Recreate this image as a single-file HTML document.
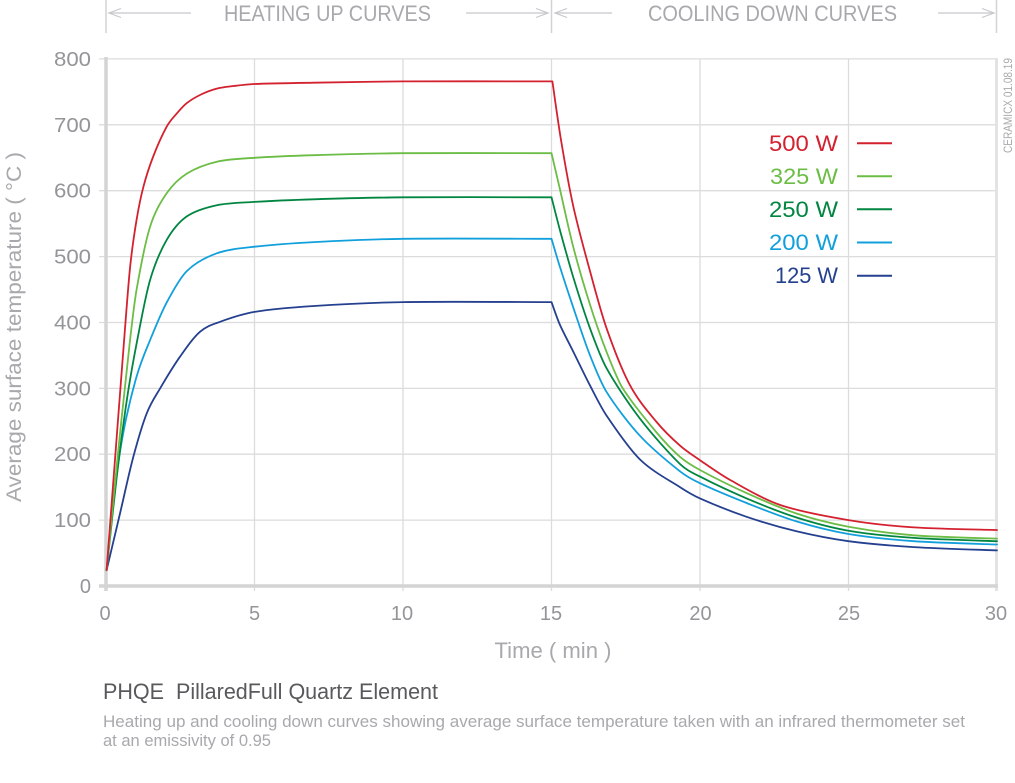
<!DOCTYPE html>
<html>
<head>
<meta charset="utf-8">
<style>
  html,body{margin:0;padding:0;background:#ffffff;}
  svg{display:block;}
  text{font-family:"Liberation Sans",sans-serif;}
</style>
</head>
<body>
<svg width="1015" height="783" viewBox="0 0 1015 783" xmlns="http://www.w3.org/2000/svg">
  <rect x="0" y="0" width="1015" height="783" fill="#ffffff"/>

  <!-- Header separators -->
  <g stroke="#d1d3d4" stroke-width="1.5">
    <line x1="106" y1="0" x2="106" y2="33"/>
    <line x1="551.5" y1="0" x2="551.5" y2="33"/>
    <line x1="996.5" y1="0" x2="996.5" y2="33"/>
  </g>
  <!-- Header arrows -->
  <g stroke="#c7c8ca" stroke-width="1.2" fill="none">
    <line x1="109" y1="13" x2="191" y2="13"/>
    <polyline points="121,8.5 109,13 121,17.5"/>
    <line x1="466" y1="13" x2="548" y2="13"/>
    <polyline points="536,8.5 548,13 536,17.5"/>
    <line x1="555" y1="13" x2="612" y2="13"/>
    <polyline points="567,8.5 555,13 567,17.5"/>
    <line x1="938" y1="13" x2="994" y2="13"/>
    <polyline points="982,8.5 994,13 982,17.5"/>
  </g>
  <text x="327.5" y="21" font-size="22" fill="#a7a9ac" text-anchor="middle" textLength="207" lengthAdjust="spacingAndGlyphs">HEATING UP CURVES</text>
  <text x="772.5" y="21" font-size="22" fill="#a7a9ac" text-anchor="middle" textLength="249" lengthAdjust="spacingAndGlyphs">COOLING DOWN CURVES</text>

  <!-- Grid -->
  <g stroke="#dcdcdc" stroke-width="1.3">
    <line x1="99" y1="58.9" x2="997" y2="58.9"/>
    <line x1="99" y1="124.8" x2="997" y2="124.8"/>
    <line x1="99" y1="190.7" x2="997" y2="190.7"/>
    <line x1="99" y1="256.6" x2="997" y2="256.6"/>
    <line x1="99" y1="322.5" x2="997" y2="322.5"/>
    <line x1="99" y1="388.4" x2="997" y2="388.4"/>
    <line x1="99" y1="454.2" x2="997" y2="454.2"/>
    <line x1="99" y1="520.1" x2="997" y2="520.1"/>
    <line x1="254.5" y1="58.9" x2="254.5" y2="591"/>
    <line x1="403" y1="58.9" x2="403" y2="591"/>
    <line x1="551.5" y1="58.9" x2="551.5" y2="591"/>
    <line x1="700" y1="58.9" x2="700" y2="591"/>
    <line x1="848.5" y1="58.9" x2="848.5" y2="591"/>
  </g>
  <line x1="996.5" y1="58" x2="996.5" y2="591" stroke="#e3e3e3" stroke-width="3"/>
  <!-- Axes -->
  <line x1="106" y1="57" x2="106" y2="591" stroke="#d4d4d4" stroke-width="3.5"/>
  <line x1="99" y1="586" x2="998" y2="586" stroke="#d4d4d4" stroke-width="3.5"/>

  <!-- Y tick labels -->
  <g font-size="20" fill="#939598" text-anchor="end">
    <text x="91" y="66" textLength="37" lengthAdjust="spacingAndGlyphs">800</text>
    <text x="91" y="131.8" textLength="37" lengthAdjust="spacingAndGlyphs">700</text>
    <text x="91" y="197.7" textLength="37" lengthAdjust="spacingAndGlyphs">600</text>
    <text x="91" y="263.6" textLength="37" lengthAdjust="spacingAndGlyphs">500</text>
    <text x="91" y="329.5" textLength="37" lengthAdjust="spacingAndGlyphs">400</text>
    <text x="91" y="395.4" textLength="37" lengthAdjust="spacingAndGlyphs">300</text>
    <text x="91" y="461.2" textLength="37" lengthAdjust="spacingAndGlyphs">200</text>
    <text x="91" y="527.1" textLength="37" lengthAdjust="spacingAndGlyphs">100</text>
    <text x="91" y="593">0</text>
  </g>
  <!-- X tick labels -->
  <g font-size="20" fill="#939598" text-anchor="middle">
    <text x="105" y="620">0</text>
    <text x="254.5" y="620">5</text>
    <text x="402" y="620">10</text>
    <text x="551" y="620">15</text>
    <text x="700.5" y="620">20</text>
    <text x="849" y="620">25</text>
    <text x="996" y="620">30</text>
  </g>

  <!-- Axis titles -->
  <text x="553" y="658" font-size="22" fill="#a7a9ac" text-anchor="middle" textLength="117" lengthAdjust="spacingAndGlyphs">Time ( min )</text>
  <text transform="translate(21,327) rotate(-90)" x="0" y="0" font-size="21" fill="#a7a9ac" text-anchor="middle" textLength="350" lengthAdjust="spacingAndGlyphs">Average surface temperature ( °C )</text>
  <text transform="translate(1012,105.5) rotate(-90)" x="0" y="0" font-size="12" fill="#a7a9ac" text-anchor="middle" textLength="95" lengthAdjust="spacingAndGlyphs">CERAMICX 01.08.19</text>

  <!-- Series -->
  <g fill="none" stroke-width="1.8" stroke-linejoin="round" stroke-linecap="round">
    <!-- 125 W -->
    <path stroke="#25408f" d="M 106.6,570.2
      C 108.83,560.75 115.55,532.38 120,513.5
      C 124.45,494.62 128.85,473.58 133.3,456.9
      C 137.75,440.22 142.23,424.82 146.7,413.4
      C 151.17,401.98 155.63,396.01 160.1,388.4
      C 165.65,378.95 173.33,366.15 180,356.7
      C 186.67,347.25 193.43,337.52 200.1,331.7
      C 206.77,325.88 213.37,324.21 220,321.8
      C 229.07,318.5 243,313.83 254.5,311.9
      C 270.15,309.27 294.1,307.3 313.9,306
      C 338.65,304.37 373.3,302.59 403,302.1
      C 442.6,301.45 526.75,302.1 551.5,302.1
      C 552.88,305.83 557.03,318.2 559.8,324.5
      C 563.42,332.73 568.73,342.47 573.2,351.5
      C 578.2,361.6 584.27,374.45 589.8,385.1
      C 595.33,395.75 600.87,407.2 606.4,415.4
      C 614.77,427.8 628.8,448.58 640,459.5
      C 652.28,471.47 670.1,480.72 680.1,487.2
      C 686.73,491.5 693.37,495.45 700,498.4
      C 711.08,503.33 731.07,511.51 746.6,516.8
      C 762.68,522.28 779.87,527.32 796.5,531.3
      C 813.48,535.37 831.17,538.87 848.5,541.2
      C 868.05,543.83 892.03,545.75 913.8,547.1
      C 938.55,548.63 983.13,549.85 997,550.4"/>
    <!-- 200 W -->
    <path stroke="#12a0dc" d="M 106.6,570.2
      C 107.73,558.45 111.13,518.4 113.4,499.7
      C 116.17,476.87 119.93,450.55 123.2,433.2
      C 127.07,412.67 132.13,391.98 136.6,376.5
      C 141.07,361.02 145.53,351.3 150,340.3
      C 155,328 161.07,313.1 166.6,302.7
      C 172.73,291.17 180.07,277.72 186.8,271.1
      C 195.17,262.87 206.8,256.91 216.8,253.3
      C 228.08,249.23 241.93,248.15 254.5,246.7
      C 270.68,244.83 294.1,243.16 313.9,242.1
      C 338.65,240.78 373.3,239.21 403,238.8
      C 442.6,238.25 526.75,238.8 551.5,238.8
      C 552.88,243.42 557.03,257.76 559.8,266.5
      C 563.42,277.92 568.73,294.14 573.2,307.3
      C 578.2,322.02 584.27,340.73 589.8,354.8
      C 595.33,368.87 600.87,382.78 606.4,391.7
      C 614.77,405.2 628.8,423.69 640,435.8
      C 652.28,449.08 670.1,463.5 680.1,471.4
      C 686.73,476.64 693.37,480.05 700,483.2
      C 711.08,488.47 731.07,496.85 746.6,503
      C 762.68,509.37 779.87,516.34 796.5,521.4
      C 813.48,526.57 831.17,531.08 848.5,534
      C 868.05,537.3 892.03,539.66 913.8,541.2
      C 938.55,542.95 983.13,543.95 997,544.5"/>
    <!-- 250 W -->
    <path stroke="#008641" d="M 106.6,570.2
      C 108.28,554.72 113.33,505.63 116.7,477.3
      C 120.07,448.97 123.48,422.48 126.8,400.2
      C 130.07,378.25 133.33,360.48 136.6,343.6
      C 140.47,323.62 145.53,295.72 150,280.3
      C 155,263.05 161.07,249.71 166.6,240.1
      C 172.73,229.45 180.07,221.08 186.8,216.4
      C 195.17,210.58 206.8,207.35 216.8,205.2
      C 228.08,202.78 241.93,202.66 254.5,201.9
      C 270.68,200.92 294.1,199.92 313.9,199.3
      C 338.65,198.53 373.3,197.55 403,197.3
      C 442.6,196.97 526.75,197.3 551.5,197.3
      C 552.88,202.68 557.03,219.44 559.8,229.6
      C 563.42,242.88 568.73,262.37 573.2,277
      C 578.2,293.37 584.27,312.65 589.8,327.8
      C 595.33,342.95 600.87,357.89 606.4,367.9
      C 614.77,383.05 628.8,404.08 640,418.7
      C 652.28,434.73 670.1,454.45 680.1,464.1
      C 686.73,470.5 693.37,473.18 700,476.6
      C 711.08,482.32 731.07,491.81 746.6,498.4
      C 762.68,505.22 779.87,512.23 796.5,517.5
      C 813.48,522.88 831.17,527.69 848.5,530.7
      C 868.05,534.1 892.03,536.36 913.8,537.9
      C 938.55,539.65 983.13,540.65 997,541.2"/>
    <!-- 325 W -->
    <path stroke="#6cbd45" d="M 106.6,570.2
      C 108.48,550.87 114.13,491.21 117.9,454.2
      C 121.77,416.2 126.68,369.65 129.8,342.2
      C 132.07,322.24 134.33,302.44 136.6,289.5
      C 139.97,270.3 145.53,241.32 150,227
      C 155,210.98 161.07,201.43 166.6,193.4
      C 172.73,184.5 180.07,177.85 186.8,173.6
      C 195.17,168.32 206.8,164.03 216.8,161.7
      C 228.08,159.07 241.93,158.64 254.5,157.8
      C 270.68,156.72 294.1,155.82 313.9,155.2
      C 338.65,154.43 373.3,153.45 403,153.2
      C 442.6,152.87 526.75,153.2 551.5,153.2
      C 552.88,159.12 557.03,176.78 559.8,188.7
      C 563.42,204.28 568.73,229.52 573.2,246.7
      C 578.2,265.92 584.27,286.53 589.8,304
      C 595.33,321.47 600.9,337.43 606.4,351.5
      C 611.9,365.57 617.33,379.57 622.8,388.4
      C 631.17,401.9 647.05,421.08 656.6,432.5
      C 664.43,441.86 672.87,450.65 680.1,456.9
      C 686.73,462.63 693.37,466.39 700,470
      C 711.08,476.03 731.07,486.1 746.6,493.1
      C 762.68,500.35 779.87,508.02 796.5,513.5
      C 813.48,519.1 831.17,523.48 848.5,526.7
      C 868.05,530.33 892.03,533.56 913.8,535.3
      C 938.55,537.28 983.13,538.05 997,538.6"/>
    <!-- 500 W -->
    <path stroke="#d4212f" d="M 106.6,570.2
      C 107.98,551.97 112.13,497.16 114.9,460.8
      C 117.82,422.48 121.57,372.58 124.1,340.3
      C 126.1,314.8 128.1,286.4 130.1,267.1
      C 132.18,247 134.43,232.77 136.6,219.7
      C 138.82,206.32 141.13,195.43 143.4,186.8
      C 146.17,176.27 149.93,164.95 153.2,156.5
      C 157.07,146.5 162.68,133.95 166.6,126.8
      C 169.97,120.65 173.33,117.55 176.7,113.6
      C 180.07,109.65 183.43,105.75 186.8,103.1
      C 190.85,99.92 196.27,96.79 201,94.5
      C 206,92.08 211.53,89.97 216.8,88.6
      C 222.25,87.18 228.07,86.69 233.7,86
      C 239.98,85.23 247.57,84.28 254.5,84
      C 267.87,83.45 294.1,83.04 313.9,82.7
      C 338.65,82.27 373.3,81.57 403,81.4
      C 442.6,81.18 526.75,81.4 551.5,81.4
      L 552.4,81.4
      C 553.83,91.17 558.13,122.84 561,140
      C 564.47,160.75 569.13,187.47 573.2,205.9
      C 578,227.63 584.27,250.08 589.8,270.4
      C 595.33,290.72 600.87,311.97 606.4,327.8
      C 613.08,346.92 622.07,370.41 629.9,385.1
      C 638.27,400.8 648.23,411.9 656.6,422
      C 664.43,431.44 672.87,439.33 680.1,445.7
      C 686.73,451.54 693.37,455.66 700,460.2
      C 708.32,465.9 720,474.31 730,479.9
      C 743.37,487.37 763.47,499.32 780.2,505
      C 799.95,511.7 826.23,516.37 848.5,520.1
      C 870.27,523.75 892.03,525.95 913.8,527.4
      C 938.55,529.05 983.13,529.57 997,530"/>
  </g>

  <!-- Legend -->
  <g font-size="22" text-anchor="end">
    <text x="838" y="151" fill="#d4212f" textLength="69" lengthAdjust="spacingAndGlyphs">500 W</text>
    <text x="838" y="184" fill="#6cbd45" textLength="68" lengthAdjust="spacingAndGlyphs">325 W</text>
    <text x="838" y="217" fill="#008641" textLength="69" lengthAdjust="spacingAndGlyphs">250 W</text>
    <text x="838" y="250" fill="#12a0dc" textLength="69" lengthAdjust="spacingAndGlyphs">200 W</text>
    <text x="838" y="283" fill="#25408f" textLength="63" lengthAdjust="spacingAndGlyphs">125 W</text>
  </g>
  <g stroke-width="2">
    <line x1="857" y1="143.3" x2="892" y2="143.3" stroke="#d4212f"/>
    <line x1="857" y1="176.3" x2="892" y2="176.3" stroke="#6cbd45"/>
    <line x1="857" y1="209.3" x2="892" y2="209.3" stroke="#008641"/>
    <line x1="857" y1="242.5" x2="892" y2="242.5" stroke="#12a0dc"/>
    <line x1="857" y1="275.7" x2="892" y2="275.7" stroke="#25408f"/>
  </g>

  <!-- Caption -->
  <text x="103" y="699" font-size="22" fill="#58595b" textLength="335" lengthAdjust="spacingAndGlyphs">PHQE&#160; PillaredFull Quartz Element</text>
  <text x="103" y="727" font-size="17" fill="#a7a9ac" textLength="862" lengthAdjust="spacingAndGlyphs">Heating up and cooling down curves showing average surface temperature taken with an infrared thermometer set</text>
  <text x="103" y="746" font-size="17" fill="#a7a9ac" textLength="168" lengthAdjust="spacingAndGlyphs">at an emissivity of 0.95</text>
</svg>
</body>
</html>
